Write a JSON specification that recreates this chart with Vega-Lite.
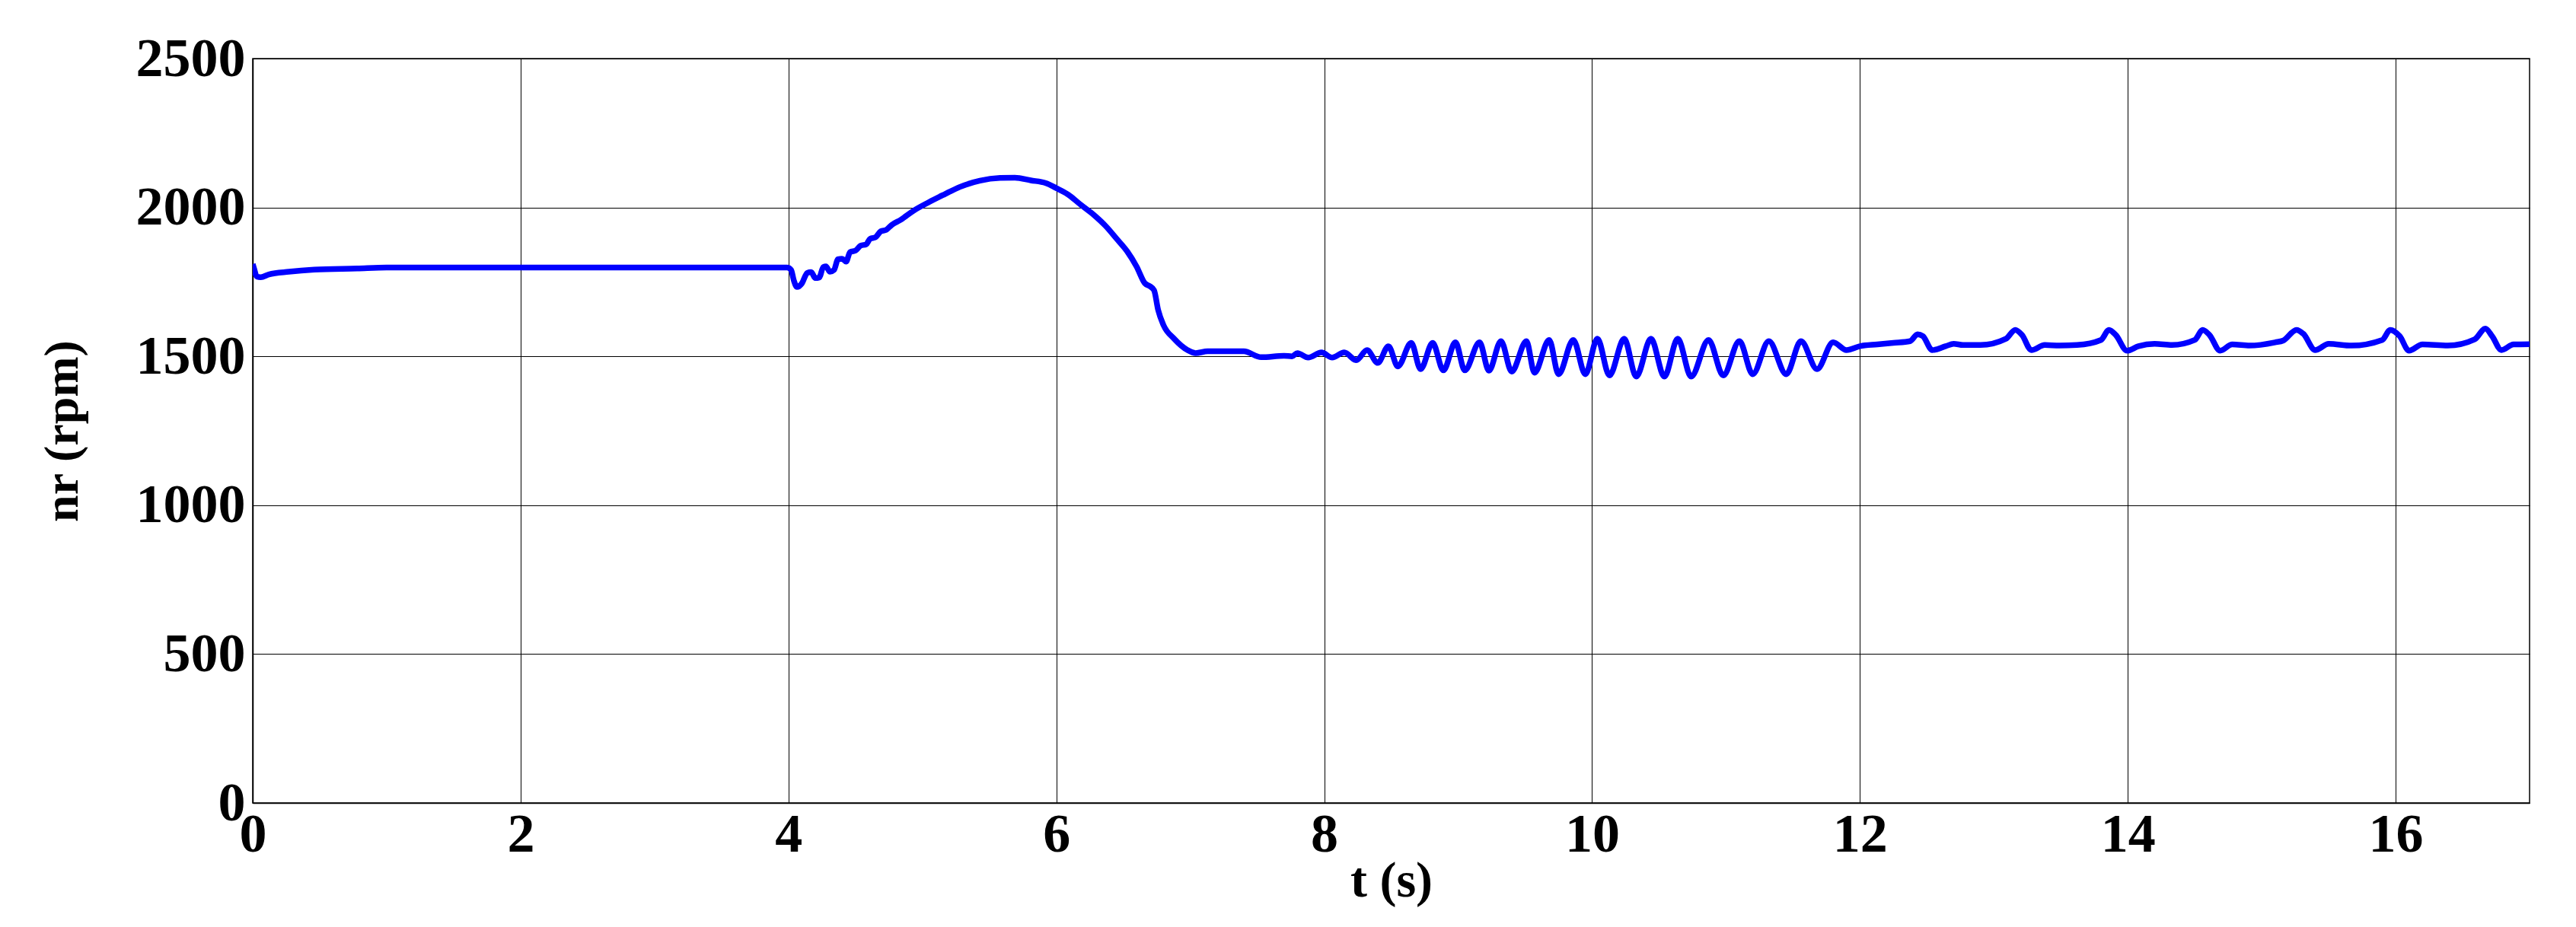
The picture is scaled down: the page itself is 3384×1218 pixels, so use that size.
{
  "$schema": "https://vega.github.io/schema/vega-lite/v6.json",
  "autosize": {"type": "none"},
  "padding": {"left": 332, "top": 77, "right": 61, "bottom": 163},
  "width": 2991,
  "height": 978,
  "background": "white",
  "config": {
    "view": {"stroke": "black", "strokeWidth": 1.5},
    "axis": {
      "labelFont": "Liberation Serif",
      "labelFontWeight": "bold",
      "labelColor": "black",
      "titleFont": "Liberation Serif",
      "titleFontWeight": "bold",
      "titleColor": "black",
      "gridColor": "black",
      "gridOpacity": 1,
      "gridWidth": 1,
      "domainColor": "black",
      "domainWidth": 1.5,
      "ticks": false,
      "tickSize": 0
    }
  },
  "data": {
    "values": [
      {"t": 0.0, "n": 1810}, {"t": 0.01, "n": 1795}, {"t": 0.03, "n": 1768}, {"t": 0.06, "n": 1766},
      {"t": 0.12, "n": 1775}, {"t": 0.27, "n": 1784}, {"t": 0.46, "n": 1791}, {"t": 0.78, "n": 1795},
      {"t": 1.0, "n": 1798}, {"t": 2.0, "n": 1798}, {"t": 3.0, "n": 1798}, {"t": 3.99, "n": 1798},
      {"t": 4.02, "n": 1790}, {"t": 4.04, "n": 1755}, {"t": 4.064, "n": 1733}, {"t": 4.1, "n": 1745},
      {"t": 4.14, "n": 1780}, {"t": 4.17, "n": 1783}, {"t": 4.2, "n": 1763}, {"t": 4.23, "n": 1765},
      {"t": 4.26, "n": 1800}, {"t": 4.28, "n": 1802}, {"t": 4.31, "n": 1784}, {"t": 4.34, "n": 1790},
      {"t": 4.37, "n": 1826}, {"t": 4.4, "n": 1828}, {"t": 4.43, "n": 1818}, {"t": 4.46, "n": 1850},
      {"t": 4.5, "n": 1855}, {"t": 4.54, "n": 1872}, {"t": 4.58, "n": 1876}, {"t": 4.61, "n": 1895},
      {"t": 4.65, "n": 1900}, {"t": 4.69, "n": 1920}, {"t": 4.73, "n": 1925}, {"t": 4.77, "n": 1941},
      {"t": 4.84, "n": 1959}, {"t": 4.93, "n": 1988}, {"t": 5.05, "n": 2018}, {"t": 5.16, "n": 2043},
      {"t": 5.28, "n": 2069}, {"t": 5.43, "n": 2090}, {"t": 5.58, "n": 2099}, {"t": 5.69, "n": 2100},
      {"t": 5.81, "n": 2091}, {"t": 5.92, "n": 2082}, {"t": 6.0, "n": 2065}, {"t": 6.09, "n": 2043},
      {"t": 6.18, "n": 2010}, {"t": 6.28, "n": 1975}, {"t": 6.37, "n": 1937}, {"t": 6.45, "n": 1895},
      {"t": 6.53, "n": 1852}, {"t": 6.6, "n": 1801}, {"t": 6.66, "n": 1746}, {"t": 6.7, "n": 1735},
      {"t": 6.73, "n": 1722}, {"t": 6.76, "n": 1656}, {"t": 6.8, "n": 1605}, {"t": 6.88, "n": 1559},
      {"t": 6.98, "n": 1521}, {"t": 7.04, "n": 1511}, {"t": 7.13, "n": 1517}, {"t": 7.4, "n": 1517},
      {"t": 7.53, "n": 1497}, {"t": 7.7, "n": 1502}, {"t": 7.76, "n": 1500}, {"t": 7.8, "n": 1511},
      {"t": 7.88, "n": 1496}, {"t": 7.98, "n": 1513}, {"t": 8.06, "n": 1496}, {"t": 8.15, "n": 1513},
      {"t": 8.24, "n": 1487}, {"t": 8.32, "n": 1521}, {"t": 8.4, "n": 1478}, {"t": 8.48, "n": 1534},
      {"t": 8.55, "n": 1466}, {"t": 8.65, "n": 1545}, {"t": 8.72, "n": 1457}, {"t": 8.81, "n": 1545},
      {"t": 8.89, "n": 1453}, {"t": 8.98, "n": 1547}, {"t": 9.05, "n": 1453}, {"t": 9.16, "n": 1547},
      {"t": 9.23, "n": 1452}, {"t": 9.32, "n": 1551}, {"t": 9.4, "n": 1449}, {"t": 9.51, "n": 1551},
      {"t": 9.57, "n": 1445}, {"t": 9.68, "n": 1555}, {"t": 9.75, "n": 1440}, {"t": 9.86, "n": 1555},
      {"t": 9.95, "n": 1440}, {"t": 10.04, "n": 1559}, {"t": 10.13, "n": 1436}, {"t": 10.24, "n": 1559},
      {"t": 10.33, "n": 1432}, {"t": 10.44, "n": 1559}, {"t": 10.54, "n": 1432}, {"t": 10.64, "n": 1559},
      {"t": 10.74, "n": 1432}, {"t": 10.87, "n": 1555}, {"t": 10.98, "n": 1436}, {"t": 11.1, "n": 1551},
      {"t": 11.2, "n": 1440}, {"t": 11.32, "n": 1551}, {"t": 11.45, "n": 1440}, {"t": 11.56, "n": 1551},
      {"t": 11.68, "n": 1457}, {"t": 11.8, "n": 1547}, {"t": 11.9, "n": 1521}, {"t": 12.0, "n": 1534},
      {"t": 12.13, "n": 1540}, {"t": 12.25, "n": 1545}, {"t": 12.375, "n": 1551}, {"t": 12.43, "n": 1574},
      {"t": 12.47, "n": 1568}, {"t": 12.54, "n": 1521}, {"t": 12.64, "n": 1534}, {"t": 12.7, "n": 1542},
      {"t": 12.77, "n": 1538}, {"t": 12.9, "n": 1538}, {"t": 13.09, "n": 1559}, {"t": 13.16, "n": 1589},
      {"t": 13.21, "n": 1572}, {"t": 13.28, "n": 1521}, {"t": 13.38, "n": 1538}, {"t": 13.49, "n": 1536},
      {"t": 13.62, "n": 1538}, {"t": 13.8, "n": 1555}, {"t": 13.86, "n": 1589}, {"t": 13.91, "n": 1572},
      {"t": 13.995, "n": 1519}, {"t": 14.08, "n": 1534}, {"t": 14.2, "n": 1542}, {"t": 14.33, "n": 1538},
      {"t": 14.5, "n": 1555}, {"t": 14.56, "n": 1589}, {"t": 14.61, "n": 1572}, {"t": 14.69, "n": 1519},
      {"t": 14.78, "n": 1540}, {"t": 14.91, "n": 1536}, {"t": 15.1, "n": 1547}, {"t": 15.16, "n": 1553},
      {"t": 15.26, "n": 1589}, {"t": 15.31, "n": 1576}, {"t": 15.4, "n": 1521}, {"t": 15.5, "n": 1542},
      {"t": 15.67, "n": 1536}, {"t": 15.9, "n": 1555}, {"t": 15.96, "n": 1589}, {"t": 16.03, "n": 1568},
      {"t": 16.1, "n": 1519}, {"t": 16.2, "n": 1540}, {"t": 16.39, "n": 1536}, {"t": 16.59, "n": 1557},
      {"t": 16.67, "n": 1593}, {"t": 16.72, "n": 1568}, {"t": 16.79, "n": 1521}, {"t": 16.88, "n": 1540},
      {"t": 17.0, "n": 1541}
    ]
  },
  "mark": {"type": "line", "color": "#0000FF", "strokeWidth": 7.5, "interpolate": "monotone", "clip": true},
  "encoding": {
    "x": {
      "field": "t",
      "type": "quantitative",
      "scale": {"domain": [0, 17], "nice": false, "zero": false},
      "axis": {
        "title": "t (s)",
        "values": [0, 2, 4, 6, 8, 10, 12, 14, 16],
        "format": "d",
        "labelFontSize": 72,
        "labelBaseline": "alphabetic",
        "labelPadding": 63,
        "labelFlush": false,
        "labelOverlap": false,
        "titleFontSize": 66,
        "titleBaseline": "alphabetic",
        "titleY": 122,
        "titlePadding": 0
      }
    },
    "y": {
      "field": "n",
      "type": "quantitative",
      "scale": {"domain": [0, 2500], "nice": false, "zero": false},
      "axis": {
        "title": "nr (rpm)",
        "values": [0, 500, 1000, 1500, 2000, 2500],
        "format": "d",
        "labelFontSize": 72,
        "labelPadding": 10,
        "labelAlign": "right",
        "labelBaseline": "middle",
        "labelFlush": false,
        "labelOverlap": false,
        "titleFontSize": 64,
        "titleAngle": -90,
        "titleAlign": "center",
        "titleBaseline": "middle",
        "titleX": -250,
        "titleY": 489
      }
    }
  }
}
